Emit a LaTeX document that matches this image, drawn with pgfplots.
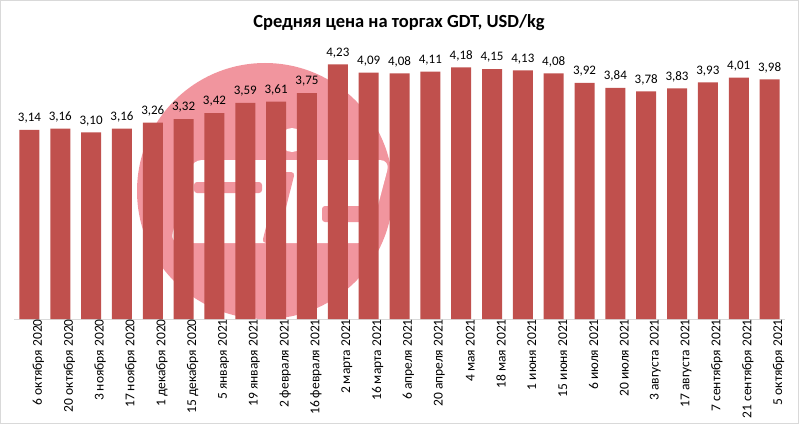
\documentclass[border=0pt]{standalone}
\usepackage{pgfplots}
\pgfplotsset{compat=1.18}
\usepackage{fontspec}
\setmainfont{Carlito}
\definecolor{barred}{HTML}{C0504D}
\definecolor{logopink}{HTML}{F1959E}
\definecolor{framegray}{HTML}{D9D9D9}
\begin{document}
\begin{tikzpicture}[x=1pt,y=1pt]
\path[use as bounding box] (0,0) rectangle (799,424);
\draw[framegray, line width=1pt] (0.5,0.5) rectangle (798.5,423.5);
\node[font=\bfseries\fontsize{18.5}{20}\selectfont] at (399,401) {Средняя цена на торгах GDT, USD/kg};
% watermark logo (decoration)
\begin{scope}
\clip (0,105) rectangle (799,424);
\fill[logopink] (265,233) circle[radius=128pt];
\fill[white, rounded corners=10pt] (170,181) -- (368,181) -- (390,264) -- (192,264) -- cycle;
\fill[white] (292,284) circle[radius=12pt];
\fill[logopink, rounded corners=3pt] (194,231) rectangle (262,242);
\fill[logopink, rounded corners=3pt] (322,202) rectangle (362,218);
\fill[logopink, rounded corners=4pt] (262,181) -- (277,181) -- (295,252) -- (280,252) -- cycle;
\end{scope}
\begin{axis}[
  at={(14pt,105pt)}, anchor=south west,
  scale only axis, width=771pt, height=277pt,
  xmin=-0.5, xmax=24.5, ymin=0, ymax=4.6,
  axis x line=bottom, axis y line=none,
  x axis line style={-, draw=framegray, line width=1pt},
  xtick={0,...,24}, major tick length=0pt,
  xticklabels={6 октября 2020,20 октября 2020,3 ноября 2020,17 ноября 2020,1 декабря 2020,15 декабря 2020,5 января 2021,19 января 2021,2 февраля 2021,16 февраля 2021,2 марта 2021,16 марта 2021,6 апреля 2021,20 апреля 2021,4 мая 2021,18 мая 2021,1 июня 2021,15 июня 2021,6 июля 2021,20 июля 2021,3 августа 2021,17 августа 2021,7 сентября 2021,21 сентября 2021,5 октября 2021},
  xticklabel style={rotate=90, anchor=east, font=\fontsize{13.5}{14}\selectfont, inner sep=0pt},
  every x tick label/.append style={yshift=-9pt},
  clip=false,
  nodes near coords={\pgfmathprintnumber[fixed,fixed zerofill,precision=2,use comma,assume math mode=true]{\pgfplotspointmeta}},
  every node near coord/.append style={font=\fontsize{13}{14}\selectfont, yshift=3pt, text=black},
]
\addplot[ybar, bar width=20pt, fill=barred, draw=none] coordinates {
(0,3.14) (1,3.16) (2,3.10) (3,3.16) (4,3.26) (5,3.32) (6,3.42) (7,3.59) (8,3.61) (9,3.75)
(10,4.23) (11,4.09) (12,4.08) (13,4.11) (14,4.18) (15,4.15) (16,4.13) (17,4.08) (18,3.92)
(19,3.84) (20,3.78) (21,3.83) (22,3.93) (23,4.01) (24,3.98)};
\end{axis}
\end{tikzpicture}
\end{document}
